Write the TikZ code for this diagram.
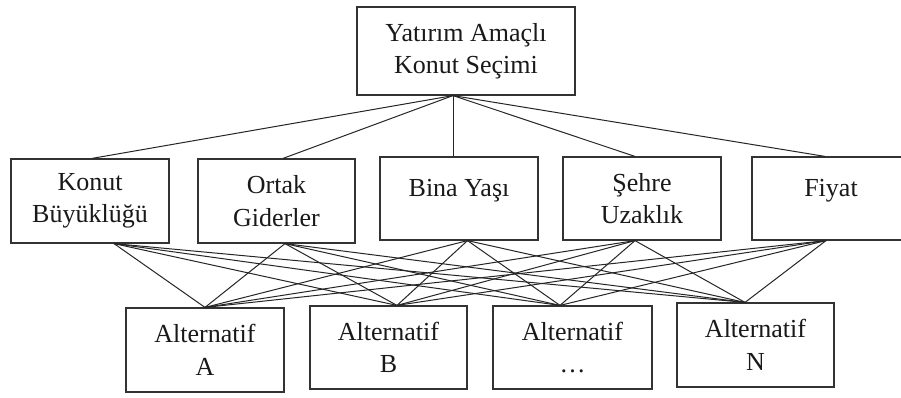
\documentclass[tikz,border=0pt]{standalone}
\usepackage{fontspec}
\setmainfont{Liberation Serif}
\begin{document}
\begin{tikzpicture}[x=1pt,y=-1pt,
  box/.style={draw=black!80,line width=1.2pt,rectangle,inner sep=0pt,align=center,
    font=\fontsize{26}{32.5}\selectfont,text=black!90},
  link/.style={draw=black!85,line width=1pt}]
\clip (0,0) rectangle (901,397);
\fill[white] (0,0) rectangle (901,397);
% nodes
\node[box,minimum width=218pt,minimum height=88pt] (top) at (466,51) {Yatırım Amaçlı\\Konut Seçimi};
\node[box,minimum width=158pt,minimum height=84pt] (k1) at (90,201) {Konut\\Büyüklüğü};
\node[box,minimum width=157pt,minimum height=84pt] (k2) at (276.5,201) {Ortak\\Giderler};
\node[box,minimum width=158pt,minimum height=83pt] (k3) at (459,198.5) {\raisebox{8pt}[\height][\depth]{Bina Yaşı}};
\node[box,minimum width=158pt,minimum height=83pt] (k4) at (642,198.5) {Şehre\\Uzaklık};
\node[box,minimum width=158pt,minimum height=83pt] (k5) at (831,198.5) {\raisebox{8pt}[\height][\depth]{Fiyat}};
\node[box,minimum width=158pt,minimum height=84pt] (a1) at (205,350) {Alternatif\\A};
\node[box,minimum width=157pt,minimum height=83pt] (a2) at (388.5,347.5) {Alternatif\\B};
\node[box,minimum width=159pt,minimum height=83pt] (a3) at (572.5,347.5) {Alternatif\\…};
\node[box,minimum width=157pt,minimum height=84pt] (a4) at (755.5,345) {Alternatif\\N};
% attachment points
\coordinate (tS) at ([xshift=-13pt]top.south);
\coordinate (k1N) at ([xshift=2pt]k1.north);
\coordinate (k2N) at ([xshift=6.5pt]k2.north);
\coordinate (k3N) at ([xshift=-6pt]k3.north);
\coordinate (k4N) at ([xshift=-7pt]k4.north);
\coordinate (k5N) at ([xshift=-6pt]k5.north);
\coordinate (k1S) at ([xshift=24pt]k1.south);
\coordinate (k2S) at ([xshift=8.5pt]k2.south);
\coordinate (k3S) at ([xshift=8.5pt]k3.south);
\coordinate (k4S) at ([xshift=-7pt]k4.south);
\coordinate (k5S) at ([xshift=-5pt]k5.south);
\coordinate (a1N) at (a1.north);
\coordinate (a2N) at ([xshift=8.5pt]a2.north);
\coordinate (a3N) at ([xshift=-12.5pt]a3.north);
\coordinate (a4N) at ([xshift=-10.5pt]a4.north);
% connectors
\foreach \k in {k1,k2,k3,k4,k5}{\draw[link] (tS) -- (\k N);}
\foreach \k in {k1,k2,k3,k4,k5}{
  \foreach \a in {a1,a2,a3,a4}{\draw[link] (\k S) -- (\a N);}}
\end{tikzpicture}
\end{document}
